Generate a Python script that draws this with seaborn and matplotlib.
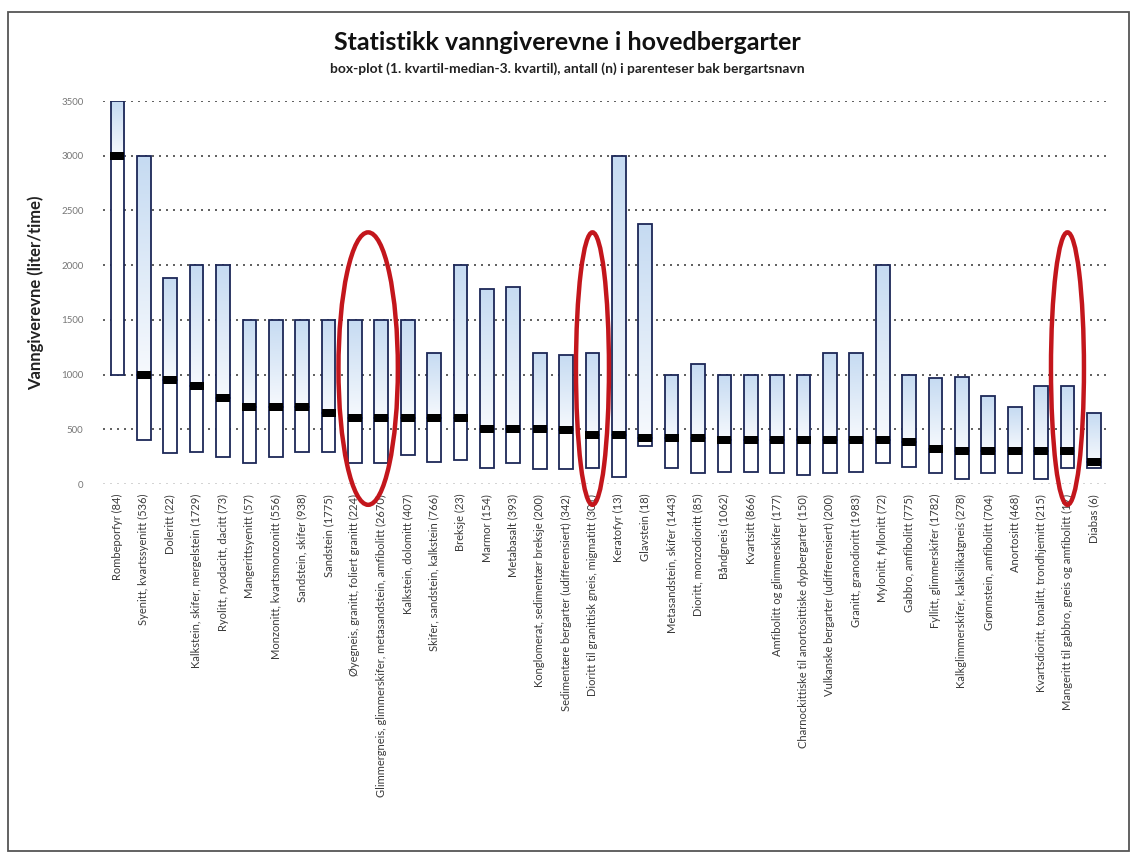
import matplotlib.pyplot as plt
import matplotlib.patches as mpatches
from matplotlib.colors import LinearSegmentedColormap
from matplotlib.path import Path
import numpy as np
import pandas as pd
import seaborn as sns

# Bergarter med antall (n) i parentes
names = [
    'Rombeporfyr (84)', 'Syenitt, kvartssyenitt (536)', 'Doleritt (22)',
    'Kalkstein, skifer, mergelstein (1729)', 'Ryolitt, ryodacitt, dacitt (73)',
    'Mangerittsyenitt (57)', 'Monzonitt, kvartsmonzonitt (556)', 'Sandstein, skifer (938)',
    'Sandstein (1775)', 'Øyegneis, granitt, foliert granitt (224)',
    'Glimmergneis, glimmerskifer, metasandstein, amfibolitt (2670)',
    'Kalkstein, dolomitt (407)', 'Skifer, sandstein, kalkstein (766)', 'Breksje (23)',
    'Marmor (154)', 'Metabasalt (393)', 'Konglomerat, sedimentær breksje (200)',
    'Sedimentære bergarter (udifferensiert) (342)',
    'Dioritt til granittisk gneis, migmatitt (301)', 'Keratofyr (13)', 'Glavstein (18)',
    'Metasandstein, skifer (1443)', 'Dioritt, monzodioritt (85)', 'Båndgneis (1062)',
    'Kvartsitt (866)', 'Amfibolitt og glimmerskifer (177)',
    'Charnockittiske til anortosittiske dypbergarter (150)',
    'Vulkanske bergarter (udifferensiert) (200)', 'Granitt, granodioritt (1983)',
    'Mylonitt, fyllonitt (72)', 'Gabbro, amfibolitt (775)', 'Fyllitt, glimmerskifer (1782)',
    'Kalkglimmerskifer, kalksilikatgneis (278)', 'Grønnstein, amfibolitt (704)',
    'Anortositt (468)', 'Kvartsdioritt, tonalitt, trondhjemitt (215)',
    'Mangeritt til gabbro, gneis og amfibolitt (17)', 'Diabas (6)',
]
q1 = [1000, 400, 280, 290, 250, 190, 250, 290, 290, 190, 190, 265, 200, 220, 145, 190,
      135, 135, 145, 65, 350, 145, 100, 110, 110, 100, 80, 100, 110, 190, 155, 100,
      45, 100, 100, 45, 145, 145]
median = [3000, 1000, 950, 900, 790, 700, 700, 700, 650, 600, 600, 600, 600, 600, 500, 500,
          500, 490, 450, 450, 420, 420, 420, 400, 400, 400, 400, 400, 400, 400, 385, 320,
          300, 300, 300, 300, 300, 200]
q3 = [3500, 3000, 1880, 2000, 2000, 1500, 1500, 1500, 1500, 1500, 1500, 1500, 1200, 2000,
      1780, 1800, 1200, 1180, 1200, 3000, 2375, 1000, 1095, 1000, 1000, 1000, 1000, 1200,
      1200, 2000, 1000, 965, 980, 800, 700, 900, 900, 645]

# groups of bars ringed in red in the original
ringed = [(9, 10), (18, 18), (36, 36)]

df = pd.DataFrame({'bergart': names, 'q1': q1, 'median': median, 'q3': q3})
df['nedre'] = df['median'] - df['q1']
df['ovre'] = df['q3'] - df['median']

sns.set_theme(style='white')
plt.rcParams['font.family'] = ['Lato', 'DejaVu Sans']

fig = plt.figure(figsize=(11.35, 8.57), dpi=100)
ax = fig.add_axes([0.0907, 0.4352, 0.887, 0.4469])

edge = '#1c2757'
bw = 0.52
# lower part of box: 1. kvartil -> median
sns.barplot(data=df, x='bergart', y='nedre', order=names, bottom=df['q1'].tolist(),
            color='white', saturation=1, edgecolor=edge, linewidth=1.3, width=bw,
            ax=ax, zorder=3)
# upper part of box: median -> 3. kvartil
sns.barplot(data=df, x='bergart', y='ovre', order=names, bottom=df['median'].tolist(),
            color='#d3e3f5', saturation=1, edgecolor=edge, linewidth=1.3, width=bw,
            ax=ax, zorder=3)

# light blue gradient inside the upper boxes
cmap = LinearSegmentedColormap.from_list('bl', ['#f6f9fd', '#c6dbf2'])
grad = np.linspace(0, 1, 64).reshape(-1, 1)
for rect in ax.containers[1]:
    x0, y0 = rect.get_x(), rect.get_y()
    w, h = rect.get_width(), rect.get_height()
    rect.set_facecolor('none')
    im = ax.imshow(grad, extent=[x0, x0 + w, y0, y0 + h], origin='lower', cmap=cmap,
                   aspect='auto', zorder=2.9, interpolation='bilinear')
    im.set_clip_path(rect)

# median markers
box_marker = Path([(-1, -0.55), (1, -0.55), (1, 0.55), (-1, 0.55), (-1, -0.55)])
sns.scatterplot(x=df.index, y=df['median'], marker=box_marker, s=110, color='black',
                linewidth=0, ax=ax, zorder=5, legend=False)

ax.set_xlim(-0.55, len(names) - 0.4)
ax.set_ylim(0, 3500)
ax.set_yticks(range(0, 3501, 500))
ax.yaxis.grid(True, linestyle=(0, (1.2, 3)), color='#444444', linewidth=1.2)
ax.get_ygridlines()[0].set_color('#cccccc')
ax.set_axisbelow(True)
for s in ax.spines.values():
    s.set_visible(False)
ax.tick_params(axis='both', length=0)
ax.tick_params(axis='y', labelsize=7, labelcolor='#777777', pad=14)
ax.set_xticks(range(len(names)))
ax.set_xticklabels(names, rotation=90, fontsize=8, color='#3a3a3a', va='top')
ax.tick_params(axis='x', pad=7)
ax.set_xlabel('')
ax.set_ylabel('Vanngiverevne (liter/time)', fontsize=12, fontweight='bold', color='#222222')
ax.yaxis.set_label_coords(-0.058, 0.5)

# red rings around selected bars
for a, b in ringed:
    cx = (a + b) / 2
    wid = (b - a) + 1.25
    ell = mpatches.Ellipse((cx, 1055), wid, 2490, fill=False, edgecolor='#c3161c',
                           linewidth=3.2, clip_on=False, zorder=6)
    ax.add_patch(ell)

fig.text(0.5, 1 - 42 / 857, 'Statistikk vanngiverevne i hovedbergarter', ha='center',
         va='center', fontsize=18, fontweight='bold', color='#111111')
fig.text(0.5, 1 - 69 / 857,
         'box-plot (1. kvartil-median-3. kvartil), antall (n) i parenteser bak bergartsnavn',
         ha='center', va='center', fontsize=10, fontweight='bold', color='#222222')

fig.add_artist(mpatches.Rectangle((8 / 1135, 1 - 851 / 857), 1121 / 1135, 839 / 857,
                                  transform=fig.transFigure, fill=False,
                                  edgecolor='#555555', linewidth=1.3))

fig.savefig('out.png', dpi=100)
